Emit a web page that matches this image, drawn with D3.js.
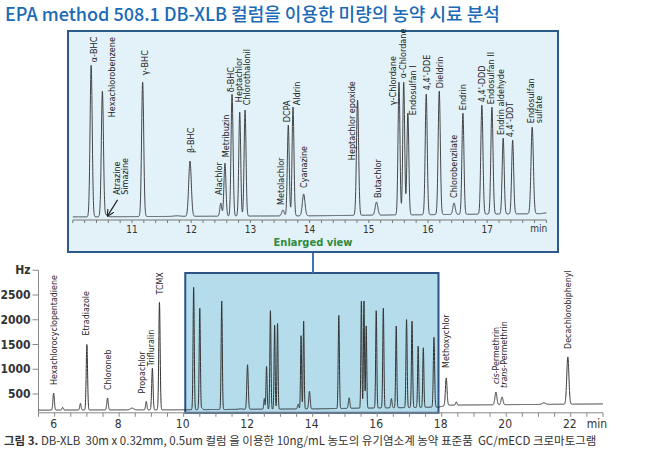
<!DOCTYPE html>
<html><head><meta charset="utf-8">
<script src="https://cdn.jsdelivr.net/npm/d3@7"></script>
<style>body{margin:0;background:#fff} svg{display:block}</style>
</head><body><svg id="c" width="650" height="454"></svg>
<script>
// ---- data ----
const peakNames = [
  "Hexachlorocyclopentadiene","","","Etradiazole","Chloroneb","","Propachlor","Trifluralin","TCMX",
  "α-BHC","Hexachlorobenzene","Atrazine|Simazine","γ-BHC","","β-BHC","Alachlor","Metribuzin","δ-BHC","Heptachlor","Chlorothalonil",
  "Metolachlor","DCPA","Aldrin","Cyanazine","Heptachlor epoxide","Butachlor","","γ-Chlordane","α-Chlordane","Endosulfan I",
  "4,4'-DDE","Dieldrin","Chlorobenzilate","Endrin","4,4'-DDD","Endosulfan II","Endrin aldehyde","4,4'-DDT","Endosulfan|sulfate",
  "Methoxychlor","","cis-Permethrin","trans-Permethrin","","Decachlorobiphenyl"
];
const peakTimes = [
  5.97,6.25,6.80,7.00,7.64,8.40,8.84,9.03,9.25,
  10.31,10.50,10.57,11.18,11.76,11.98,12.50,12.57,12.69,12.82,12.91,
  13.55,13.64,13.72,13.90,14.81,15.13,15.40,15.51,15.59,15.66,
  15.97,16.19,16.44,16.59,16.91,17.08,17.27,17.43,17.76,
  18.14,18.45,19.68,19.87,21.17,21.91
];
const peakHeights = [
  520,230,310,1500,420,215,350,1020,2350,
  2656,2232,215,2379,200,1092,408,1059,2183,1890,1923,
  294,1678,1972,555,2086,424,215,2379,2379,1874,
  2183,2232,408,1874,2004,1972,1467,1434,1646,
  825,340,540,440,320,1250
];
const peakWidths = [
  0.022,0.02,0.02,0.021,0.022,0.05,0.02,0.021,0.021,
  0.018,0.018,0.02,0.018,0.05,0.022,0.016,0.017,0.017,0.016,0.016,
  0.02,0.016,0.016,0.022,0.018,0.022,0.03,0.016,0.016,0.016,
  0.017,0.018,0.02,0.017,0.018,0.018,0.017,0.017,0.02,
  0.025,0.02,0.03,0.03,0.05,0.033
];
const baseTimes  = [5.5, 10, 14, 17.9, 18.2, 23];
const baseLevels = [175, 182, 200, 235, 275, 300];
const lowerTicks = [6,8,10,12,14,16,18,20,22];
const insetTicks = [11,12,13,14,15,16,17];
const yTicks = [500,1000,1500,2000,2500];
const lowerLabels = ["Hexachlorocyclopentadiene","Etradiazole","Chloroneb","Propachlor","Trifluralin","TCMX",
  "Methoxychlor","cis-Permethrin","trans-Permethrin","Decachlorobiphenyl"];
const zoomRange = [10.05, 17.9];

// ---- layout ----
const svg = d3.select("#c");
const FONT_N = "'Liberation Sans Narrow','DejaVu Sans Condensed',sans-serif";
const FONT_K = "'Noto Sans CJK KR','Noto Sans',sans-serif";

const xLow = d3.scaleLinear().domain([5.5, 23]).range([38.5, 603]);
const yLow = d3.scaleLinear().domain([0, 3000]).range([418.75, 270.25]);
const xIn = d3.scaleLinear().domain([10, 18]).range([72.8, 546.4]);
const yIn = d3.scaleLinear().domain([180, 2660]).range([217, 65]);
const base = d3.scaleLinear().domain(baseTimes).range(baseLevels);

const peaks = peakNames.map((n,i)=>({name:n, t:peakTimes[i], h:peakHeights[i], w:peakWidths[i], amp:peakHeights[i]-base(peakTimes[i])}));
function signal(t){
  let v = base(t);
  for (const p of peaks){ const z=(t-p.t)/p.w; if (Math.abs(z)<8) v += p.amp*Math.exp(-0.5*z*z); }
  return v;
}
const trace = d3.range(5.5, 23.0001, 0.002).map(t=>({t, v:signal(t)}));

// title
svg.append("text").attr("x",5).attr("y",21).style("font-family",FONT_K).style("font-size","18px")
  .style("font-weight",500).style("fill","#1a6ab8").text("EPA method 508.1 DB-XLB 컬럼을 이용한 미량의 농약 시료 분석");

// ---- lower chart ----
const gL = svg.append("g");
gL.append("rect").attr("x",xLow(zoomRange[0])).attr("y",273).attr("width",xLow(zoomRange[1])-xLow(zoomRange[0]))
  .attr("height",yLow(120)-273).attr("fill","#b4dcea").attr("stroke","#2a5282").attr("stroke-width",2);

const xAxisL = gL.append("g").attr("transform",`translate(0,${yLow(120)})`);
xAxisL.append("line").attr("x1",xLow(5.5)).attr("x2",xLow(23)).attr("stroke","#888").attr("stroke-width",1);
xAxisL.selectAll("line.t").data(d3.range(5.5,23.01,0.5)).join("line").attr("class","t")
  .attr("x1",d=>xLow(d)).attr("x2",d=>xLow(d)).attr("y1",0).attr("y2",4).attr("stroke","#888");
xAxisL.selectAll("text.l").data(lowerTicks).join("text").attr("class","l")
  .attr("x",d=>xLow(d)-1).attr("y",15).attr("text-anchor","middle")
  .style("font-family",FONT_N).style("font-size","12px").style("fill","#333").text(d=>d);
xAxisL.append("text").attr("x",xLow(23)-6).attr("y",15).attr("text-anchor","middle")
  .style("font-family",FONT_N).style("font-size","12px").style("fill","#333").text("min");

const yAxisL = gL.append("g").attr("transform",`translate(${xLow(5.5)},0)`);
yAxisL.append("line").attr("y1",yLow(120)).attr("y2",yLow(3000)).attr("stroke","#888");
yAxisL.selectAll("line.t").data(yTicks.concat([3000])).join("line").attr("class","t")
  .attr("x1",-6).attr("x2",0).attr("y1",d=>yLow(d)).attr("y2",d=>yLow(d)).attr("stroke","#888");
yAxisL.selectAll("text.l").data(yTicks.concat([3000])).join("text").attr("class","l")
  .attr("x",-8).attr("y",d=>yLow(d)).attr("dy","0.35em").attr("text-anchor","end")
  .style("font-family",FONT_N).style("font-size","12px").style("font-weight","bold").style("fill","#333")
  .text(d=>d===3000?"Hz":d);

gL.append("path").datum(trace).attr("fill","none").attr("stroke","#333").attr("stroke-width",1)
  .attr("d",d3.line().x(d=>xLow(d.t)).y(d=>yLow(d.v)));

function vlabel(g, x, y, name, size){
  const lines = name.split("|");
  lines.forEach((ln,k)=>{
    const t = g.append("text").attr("transform",`translate(${x+k*8},${y}) rotate(-90)`).attr("dy","0.35em")
      .style("font-family",FONT_N).style("font-size",size).style("fill","#222");
    const m = ln.match(/^(cis|trans)(-.*)$/);
    if (m){ t.append("tspan").style("font-style","italic").text(m[1]); t.append("tspan").text(m[2]); }
    else t.text(ln);
  });
}
const lowOff = {"Propachlor":[-4,-8],"Trifluralin":[-1,-2],"Methoxychlor":[0,-10],"trans-Permethrin":[2,-9],"Etradiazole":[-1,-9]};
peaks.filter(p=>lowerLabels.includes(p.name)).forEach(p=>{
  const o = lowOff[p.name]||[0,-8];
  vlabel(gL, xLow(p.t)+o[0], yLow(p.h)+o[1], p.name, "8.8px");
});

// connector
svg.append("line").attr("x1",313).attr("x2",313).attr("y1",252).attr("y2",273).attr("stroke","#3d74bb").attr("stroke-width",2);

// ---- inset ----
const gI = svg.append("g");
gI.append("rect").attr("x",68).attr("y",31).attr("width",490).attr("height",221)
  .attr("fill","#e3f2f9").attr("stroke","#2d5a8c").attr("stroke-width",2);
const xAxisI = gI.append("g").attr("transform","translate(0,220)");
xAxisI.append("line").attr("x1",xIn(10)).attr("x2",xIn(18)).attr("stroke","#777");
xAxisI.selectAll("line.t").data(d3.range(10,18.01,0.2)).join("line").attr("class","t")
  .attr("x1",d=>xIn(d)).attr("x2",d=>xIn(d)).attr("y1",0).attr("y2",3).attr("stroke","#777");
xAxisI.selectAll("text.l").data(insetTicks).join("text").attr("class","l")
  .attr("x",d=>xIn(d)).attr("y",12.5).attr("text-anchor","middle")
  .style("font-family",FONT_N).style("font-size","10px").style("fill","#333").text(d=>d);
xAxisI.append("text").attr("x",xIn(17.87)).attr("y",12).attr("text-anchor","middle")
  .style("font-family",FONT_N).style("font-size","10px").style("fill","#333").text("min");
gI.append("text").attr("x",313).attr("y",245.5).attr("text-anchor","middle")
  .style("font-family",FONT_N).style("font-size","11px").style("font-weight","bold").style("fill","#2f8a3c").text("Enlarged view");

gI.append("path").datum(trace.filter(d=>d.t>=10 && d.t<=18)).attr("fill","none").attr("stroke","#333").attr("stroke-width",0.9)
  .attr("d",d3.line().x(d=>xIn(d.t)).y(d=>yIn(d.v)));

const inOff = {
  "α-BHC":[3,-3],"Hexachlorobenzene":[9,26],"Atrazine|Simazine":[10,-20],"γ-BHC":[2,-7],"β-BHC":[1,-8],
  "Alachlor":[-2,-8],"Metribuzin":[1,-6],"δ-BHC":[-1,-2],"Heptachlor":[-1,-10],"Chlorothalonil":[2,-5],
  "Metolachlor":[-2,-5],"DCPA":[-1,-3],"Aldrin":[4,-2],"Cyanazine":[0,-6],"Heptachlor epoxide":[-6,60],
  "Butachlor":[1,-4],"γ-Chlordane":[-6,23],"α-Chlordane":[-1,-4],"Endosulfan I":[5,2],"4,4'-DDE":[1,-4],
  "Dieldrin":[1,-3],"Chlorobenzilate":[0,-5],"Endrin":[0,-3],"4,4'-DDD":[0,-3],"Endosulfan II":[-1,-3],
  "Endrin aldehyde":[-2,-3],"4,4'-DDT":[-3,-3],"Endosulfan|sulfate":[-1,-4]
};
peaks.filter(p=>p.name && p.t>=10 && p.t<=18).forEach(p=>{
  const o = inOff[p.name]||[0,-4];
  vlabel(gI, xIn(p.t)+o[0], yIn(p.h)+o[1], p.name, "9px");
});
// arrow to Atrazine/Simazine
const at = peaks.find(p=>p.name==="Atrazine|Simazine");
const ax = xIn(at.t), ay = yIn(at.h);
svg.append("defs").append("marker").attr("id","ar").attr("viewBox","0 0 10 10").attr("refX",9).attr("refY",5)
  .attr("markerWidth",6).attr("markerHeight",6).attr("orient","auto")
  .append("path").attr("d","M0,0 L10,5 L0,10").attr("fill","none").attr("stroke","#222").attr("stroke-width",1.6);
gI.append("line").attr("x1",ax+11).attr("y1",ay-15).attr("x2",ax+1).attr("y2",ay+1)
  .attr("stroke","#222").attr("stroke-width",1.2).attr("marker-end","url(#ar)");

// caption
const cap = svg.append("text").attr("x",4).attr("y",445).style("font-family",FONT_K).style("font-size","11.5px")
  .style("fill","#333").style("white-space","pre");
cap.append("tspan").style("font-weight","bold").text("그림 3. ");
cap.append("tspan").text("DB-XLB  30m x 0.32mm, 0.5um 컬럼 을 이용한 10ng/mL 농도의 유기염소계 농약 표준품  GC/mECD 크로마토그램");
</script></body></html>
